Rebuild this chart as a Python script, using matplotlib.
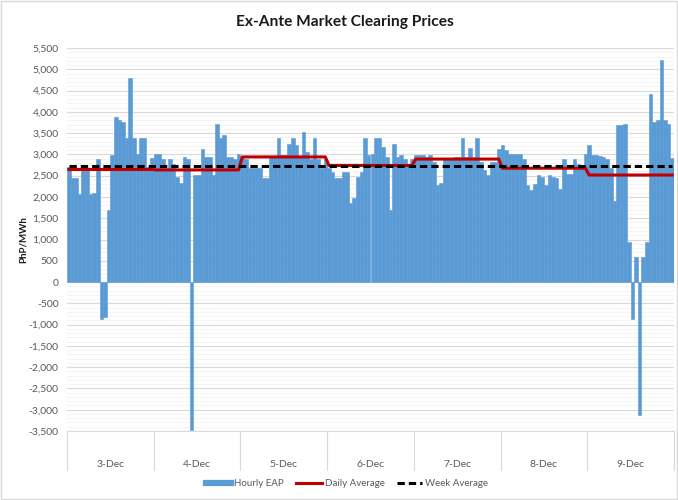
import matplotlib.pyplot as plt
import matplotlib.transforms as mtransforms
from matplotlib.lines import Line2D
from matplotlib.ticker import FuncFormatter, MultipleLocator
import numpy as np

plt.rcParams['font.family'] = ['Lato', 'DejaVu Sans']

# hourly ex-ante prices, PhP/MWh
days = ['3-Dec', '4-Dec', '5-Dec', '6-Dec', '7-Dec', '8-Dec', '9-Dec']
dec3 = [2700, 2450, 2450, 2060, 2650, 2650, 2080, 2100, 2880, -870, -820, 1690,
        2980, 3870, 3810, 3770, 3380, 4800, 3380, 3010, 3380, 3380, 2710, 2920]
dec4 = [3000, 3000, 2890, 2680, 2900, 2770, 2480, 2320, 2930, 2890, -3480, 2510,
        2510, 3120, 2930, 2930, 2510, 3710, 3380, 3450, 2930, 2930, 2900, 3000]
dec5 = [2930, 2900, 2670, 2670, 2670, 2670, 2450, 2450, 2930, 2930, 3380, 2980,
        2980, 3240, 3380, 3210, 2930, 3530, 3060, 2900, 3380, 2900, 2670, 2880]
dec6 = [2670, 2590, 2450, 2450, 2590, 2590, 1850, 1970, 2480, 2590, 3380, 2980,
        3000, 3380, 3380, 3180, 2930, 1690, 3240, 2930, 2980, 2900, 2700, 2900]
dec7 = [2980, 2980, 2980, 2930, 2980, 2830, 2280, 2320, 2880, 2900, 2900, 2930,
        2930, 3380, 2930, 3160, 2930, 3380, 2830, 2630, 2510, 2830, 2830, 3120]
dec8 = [3210, 3100, 3000, 3000, 3000, 3000, 2880, 2280, 2160, 2300, 2510, 2480,
        2280, 2510, 2480, 2440, 2180, 2880, 2530, 2530, 2880, 2770, 2750, 3000]
dec9 = [3210, 2980, 2980, 2970, 2950, 2900, 2670, 1900, 3690, 3690, 3720, 950,
        -870, 600, -3130, 600, 950, 4410, 3770, 3810, 5210, 3810, 3720, 2920]
daily_avg = [2645, 2635, 2940, 2740, 2890, 2675, 2515]
week_avg = 2720

eap = dec3 + dec4 + dec5 + dec6 + dec7 + dec8 + dec9
x = np.arange(len(eap))
daily_line = np.repeat(daily_avg, 24)
week_line = np.full(len(eap), week_avg)

fig = plt.figure(figsize=(6.78, 5.0), dpi=100)
ax = fig.add_axes([67/678, 69/500, 607/678, 383/500])

# thin edge in the same colour closes the hairline gaps between bars
ax.bar(x, eap, width=1.0, color='#5b9bd5', edgecolor='#5b9bd5', linewidth=0.4, zorder=2)
ax.plot(x, daily_line, color='#c00000', lw=2.2, zorder=3)
ax.plot(x, week_line, color='black', lw=2.2, linestyle=(0, (2.4, 1.3)), zorder=4)

ax.set_xlim(-0.5, len(eap) - 0.5)
ax.set_ylim(-3500, 5500)
ax.yaxis.set_major_locator(MultipleLocator(500))
ax.yaxis.set_minor_locator(MultipleLocator(100))
ax.yaxis.set_major_formatter(FuncFormatter(lambda v, p: f'{v:,.0f}'))
ax.yaxis.grid(True, which='major', color='#d9d9d9', lw=0.8)
ax.yaxis.grid(True, which='minor', color='#f2f2f2', lw=0.6)
ax.set_axisbelow(True)
ax.tick_params(axis='y', which='both', length=0, pad=6, labelsize=7.5, labelcolor='#595959')

for s in ['top', 'left', 'right']:
    ax.spines[s].set_visible(False)
ax.spines['bottom'].set_color('#d9d9d9')
ax.spines['bottom'].set_linewidth(0.8)

# day labels and separators under the plot
ax.set_xticks([k * 24 + 11.5 for k in range(len(days))])
ax.set_xticklabels(days)
ax.tick_params(axis='x', length=0, pad=21, labelsize=7.5, labelcolor='#595959')
trans = mtransforms.blended_transform_factory(ax.transData, ax.transAxes)
for k in range(len(days) + 1):
    ax.plot([k * 24 - 0.5] * 2, [0, -0.102], transform=trans, color='#d9d9d9',
            lw=0.8, clip_on=False)

fig.text(345/678, 1 - 22/500, 'Ex-Ante Market Clearing Prices', ha='center', va='center',
         fontsize=11.2, fontweight='bold', color='#1a1a1a')
fig.text(23/678, 1 - 240/500, 'PhP/MWh', rotation=90, ha='center', va='center',
         fontsize=7, fontweight='bold', color='#1a1a1a')

handles = [Line2D([], [], color='#5b9bd5', lw=4.5),
           Line2D([], [], color='#c00000', lw=2.2),
           Line2D([], [], color='black', lw=2.2, linestyle=(0, (2.4, 1.3)))]
fig.legend(handles, ['Hourly EAP', 'Daily Average', 'Week Average'], loc='center',
           bbox_to_anchor=(347/678, 1 - 484/500), ncol=3, frameon=False, fontsize=7,
           handlelength=2.6, handletextpad=0.3, columnspacing=1.3, labelcolor='#595959')

fig.add_artist(plt.Rectangle((0.001, 0.002), 0.997, 0.996, transform=fig.transFigure,
                             fill=False, ec='#d9d9d9', lw=1))

fig.savefig('out.png', dpi=100)
